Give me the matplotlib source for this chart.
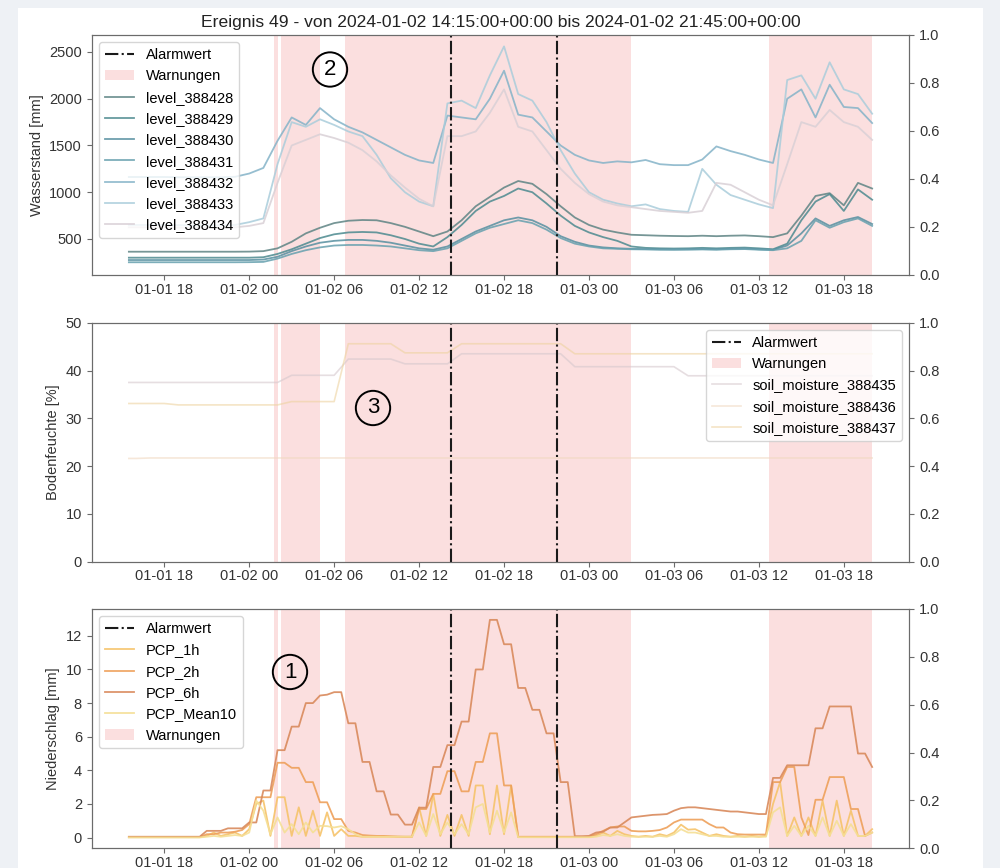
import pandas as pd
import matplotlib
matplotlib.use("Agg")
import matplotlib.pyplot as plt
import matplotlib.dates as mdates
from matplotlib.lines import Line2D
from matplotlib.patches import Patch, Rectangle

plt.rcParams['font.family'] = ['Liberation Sans', 'DejaVu Sans']
plt.rcParams['font.size'] = 10.5

title = "Ereignis 49 - von 2024-01-02 14:15:00+00:00 bis 2024-01-02 21:45:00+00:00"
alarm_times = ["2024-01-02 14:15", "2024-01-02 21:45"]
warn_start = ["2024-01-02 01:45", "2024-01-02 02:15", "2024-01-02 06:45", "2024-01-03 12:45"]
warn_end = ["2024-01-02 02:00", "2024-01-02 05:00", "2024-01-03 03:00", "2024-01-03 20:00"]

# hourly sensor readings, first one at 15:30
sensor_time = pd.DatetimeIndex(["2024-01-01 15:30"]).append(
    pd.date_range("2024-01-01 16:00", "2024-01-03 20:00", freq="h"))
# precipitation every 30 min
pcp_time = pd.date_range("2024-01-01 15:30", "2024-01-03 20:00", freq="30min")

level_names = ["level_388428", "level_388429", "level_388430", "level_388431",
               "level_388432", "level_388433", "level_388434"]
level_388428 = [364, 364, 364, 364, 364, 364, 364, 364, 364, 365, 370, 400, 470, 560, 620, 670, 695, 703,
                700, 670, 630, 580, 530, 580, 700, 850, 950, 1050, 1120, 1090, 980, 850, 730, 650, 600, 570,
                545, 540, 535, 532, 530, 535, 530, 535, 538, 530, 520, 560, 750, 960, 990, 860, 1100, 1040]
level_388429 = [300, 300, 300, 300, 300, 300, 300, 300, 300, 300, 305, 340, 390, 450, 510, 550, 570, 575,
                570, 540, 500, 450, 420, 520, 650, 800, 900, 960, 1040, 1000, 880, 750, 640, 570, 520, 480,
                420, 405, 400, 398, 400, 405, 400, 405, 408, 400, 390, 450, 700, 900, 980, 800, 1030, 920]
level_388430 = [275, 275, 275, 275, 275, 275, 275, 275, 275, 275, 280, 310, 370, 420, 460, 480, 490, 490,
                480, 460, 430, 400, 385, 420, 500, 580, 640, 700, 730, 700, 630, 530, 470, 430, 410, 400,
                395, 392, 390, 388, 390, 392, 390, 395, 398, 390, 385, 430, 560, 720, 640, 700, 735, 660]
level_388431 = [251, 251, 251, 251, 251, 251, 251, 251, 251, 252, 255, 290, 340, 380, 410, 430, 436, 436,
                430, 420, 400, 380, 370, 400, 480, 560, 620, 660, 700, 670, 600, 510, 450, 420, 400, 395,
                390, 388, 385, 385, 386, 388, 385, 390, 392, 385, 380, 400, 480, 700, 620, 680, 720, 640]
level_388432 = [1163, 1163, 1163, 1163, 1160, 1160, 1160, 1160, 1165, 1200, 1260, 1550, 1800, 1720, 1900,
                1780, 1700, 1640, 1560, 1480, 1400, 1340, 1313, 1820, 1800, 1780, 2000, 2300, 1830, 1800,
                1650, 1500, 1400, 1340, 1313, 1330, 1320, 1345, 1300, 1290, 1290, 1350, 1490, 1440, 1400,
                1350, 1313, 2000, 2100, 1800, 2150, 1912, 1900, 1740]
level_388433 = [650, 650, 650, 650, 648, 645, 645, 645, 650, 680, 720, 1300, 1750, 1700, 1780, 1720, 1650,
                1600, 1400, 1150, 1000, 900, 850, 1950, 1980, 1900, 2250, 2560, 2050, 1980, 1750, 1450,
                1200, 1000, 920, 880, 850, 870, 820, 800, 790, 1250, 1080, 970, 920, 870, 830, 2200, 2250,
                2000, 2390, 2100, 2050, 1840]
level_388434 = [625, 625, 625, 625, 622, 620, 620, 620, 625, 640, 670, 1100, 1500, 1560, 1620, 1580, 1530,
                1450, 1330, 1180, 1050, 930, 850, 1600, 1600, 1650, 1850, 2100, 1700, 1650, 1450, 1250,
                1100, 980, 900, 860, 840, 820, 800, 790, 780, 800, 1100, 1080, 1000, 920, 860, 1300, 1750,
                1700, 1880, 1750, 1700, 1560]
level_colors = ["#5e8484", "#4c8a8f", "#568fa0", "#66a0ae", "#84b3c8", "#aacddb", "#d9d0d6"]

soil_names = ["soil_moisture_388435", "soil_moisture_388436", "soil_moisture_388437"]
soil_388435 = [37.5, 37.5, 37.5, 37.5, 37.5, 37.5, 37.5, 37.5, 37.5, 37.5, 37.5, 37.5, 39.0, 39.0, 39.0,
               39.0, 42.4, 42.4, 42.4, 42.4, 41.4, 41.4, 41.4, 41.4, 43.5, 43.5, 43.5, 43.5, 43.5, 43.5,
               43.5, 43.5, 40.8, 40.8, 40.8, 40.8, 40.8, 40.8, 40.8, 40.8, 38.9, 38.9, 38.9, 38.9, 38.9,
               38.9, 38.9, 38.9, 38.9, 38.9, 38.9, 38.9, 38.9, 38.9]
soil_388436 = [21.6, 21.6, 21.7, 21.7, 21.7, 21.7, 21.7, 21.7, 21.7, 21.7, 21.7, 21.7, 21.7, 21.7, 21.7,
               21.7, 21.7, 21.7, 21.7, 21.7, 21.7, 21.7, 21.7, 21.7, 21.7, 21.7, 21.7, 21.7, 21.7, 21.7,
               21.7, 21.7, 21.7, 21.7, 21.7, 21.7, 21.7, 21.7, 21.7, 21.7, 21.7, 21.7, 21.7, 21.7, 21.7,
               21.7, 21.7, 21.7, 21.7, 21.7, 21.7, 21.7, 21.7, 21.7]
soil_388437 = [33.1, 33.1, 33.1, 33.1, 32.8, 32.8, 32.8, 32.8, 32.8, 32.8, 32.8, 32.8, 33.5, 33.5, 33.5,
               33.5, 45.6, 45.6, 45.6, 45.6, 43.7, 43.7, 43.7, 43.7, 45.6, 45.6, 45.6, 45.6, 45.6, 45.6,
               45.6, 45.6, 43.5, 43.5, 43.5, 43.5, 43.5, 43.5, 43.5, 43.5, 43.5, 43.5, 43.5, 43.5, 43.5,
               43.5, 43.5, 43.5, 43.5, 43.5, 43.5, 43.5, 43.5, 43.5]
soil_colors = ["#d6c8cd", "#f0d8c0", "#eed3a0"]

pcp_names = ["PCP_1h", "PCP_2h", "PCP_6h", "PCP_Mean10"]
pcp_1h = [0.02, 0.02, 0.02, 0.02, 0.02, 0.02, 0.02, 0.02, 0.02, 0.02, 0.02,
          0.1, 0.3, 0.1, 0.2, 0.3, 0.1,
          0.5, 2.0, 2.2, 0.1, 2.4, 2.4, 0.1, 1.8, 0.1, 1.6, 0.1, 1.5, 0.1, 0.5,
          0.1, 0.1, 0.05, 0.05, 0.05, 0.05, 0.05, 0.05, 0.05, 0.05, 1.8, 0.1, 2.6, 0.1,
          1.35, 0.1, 1.35, 0.1, 3.1, 3.1, 0.2, 3.1, 0.2, 3.1, 0.03, 0.03, 0.03, 0.03,
          0.03, 0.03, 0.03, 0.03, 0.03, 0.03, 0.03,
          0.1, 0.3, 0.1, 0.4, 0.2, 0.1, 0.05, 0.1, 0.05, 0.2, 0.1, 0.3, 0.77, 0.47, 0.5, 0.3, 0.1, 0.2,
          0.1, 0.05, 0.1, 0.05, 0.1, 0.05, 0.1,
          2.0, 3.3, 0.1, 1.2, 0.1, 1.2, 0.1, 2.2, 0.1, 2.2, 0.1, 1.6, 0.1, 0.1, 0.5]
pcp_2h = [0.03, 0.03, 0.03, 0.03, 0.03, 0.03, 0.03, 0.03, 0.03, 0.03, 0.03,
          0.2, 0.2, 0.3, 0.3, 0.35, 0.45,
          0.8, 2.4, 2.4, 2.4, 4.45, 4.45, 4.15, 4.15, 3.3, 3.3, 2.1, 2.1, 1.1, 1.1,
          0.4, 0.3, 0.15, 0.12, 0.1, 0.1, 0.08, 0.06, 0.05, 0.05, 1.7, 1.7, 2.6, 2.6,
          3.95, 3.95, 2.75, 2.75, 4.5, 4.5, 6.2, 6.2, 3.1, 3.1, 0.05, 0.05, 0.05, 0.05,
          0.05, 0.05, 0.05, 0.05, 0.05, 0.05, 0.05,
          0.2, 0.4, 0.6, 0.66, 0.66, 0.4, 0.37, 0.37, 0.4, 0.45, 0.6, 0.9, 1.07, 1.07, 1.07, 1.07, 0.8,
          0.6, 0.6, 0.3, 0.2, 0.18, 0.18, 0.18, 0.18,
          3.3, 3.3, 4.2, 4.2, 1.2, 0.15, 2.25, 2.25, 3.6, 3.6, 3.6, 1.7, 1.7, 0.1, 0.3]
pcp_6h = [0.05, 0.05, 0.05, 0.05, 0.05, 0.05, 0.05, 0.05, 0.05, 0.05, 0.05,
          0.4, 0.4, 0.4, 0.55, 0.55, 0.55,
          0.9, 0.9, 2.8, 2.8, 5.2, 5.2, 6.6, 6.6, 8.0, 8.0, 8.45, 8.5, 8.65, 8.65,
          6.8, 6.8, 4.5, 4.5, 2.75, 2.75, 1.37, 1.37, 0.77, 0.77, 1.78, 1.78, 4.2, 4.2,
          5.5, 5.5, 6.9, 6.9, 10.0, 10.0, 12.95, 12.95, 11.5, 11.5, 8.9, 8.9, 7.6, 7.6,
          6.2, 6.2, 3.3, 3.3, 0.08, 0.08, 0.1,
          0.3, 0.35, 0.6, 0.6, 0.9, 1.2, 1.25, 1.3, 1.35, 1.37, 1.4, 1.6, 1.75, 1.8, 1.8, 1.75, 1.7,
          1.65, 1.6, 1.55, 1.55, 1.5, 1.45, 1.4, 1.4,
          3.55, 3.55, 4.3, 4.3, 4.3, 4.3, 6.5, 6.5, 7.8, 7.8, 7.8, 7.8, 5.0, 5.0, 4.2]
pcp_mean10 = [0.01, 0.01, 0.01, 0.01, 0.01, 0.01, 0.01, 0.01, 0.01, 0.01, 0.01,
              0.05, 0.1, 0.05, 0.1, 0.15, 0.1,
              0.3, 2.2, 1.6, 0.2, 1.2, 0.3, 0.8, 0.2, 0.9, 0.3, 0.7, 0.68, 0.6, 0.68,
              0.5, 0.2, 0.05, 0.05, 0.05, 0.05, 0.05, 0.05, 0.05, 0.05, 0.9, 0.1, 1.4, 0.2,
              0.9, 0.2, 0.8, 0.2, 1.8, 2.0, 0.3, 1.6, 0.3, 1.5, 0.02, 0.02, 0.02, 0.02,
              0.02, 0.02, 0.02, 0.02, 0.02, 0.02, 0.02,
              0.05, 0.15, 0.1, 0.2, 0.1, 0.05, 0.05, 0.05, 0.05, 0.1, 0.05, 0.2, 0.5, 0.3, 0.3, 0.2, 0.1,
              0.1, 0.05, 0.05, 0.05, 0.05, 0.05, 0.05, 0.05,
              1.5, 1.8, 0.1, 0.7, 0.1, 0.7, 0.1, 1.2, 0.1, 1.0, 0.1, 0.8, 0.1, 0.1, 0.3]
pcp_colors = ["#f6c36a", "#eea05a", "#d98a5c", "#f5df95"]

ALARM_COLOR = "#1a1a1a"
WARN_COLOR = "lightcoral"
SPINE_COLOR = "#6b6b6b"
TEXT_COLOR = "#333333"


def decorate(ax, ylabel):
    for t in alarm_times:
        ax.axvline(pd.Timestamp(t), color=ALARM_COLOR, ls="-.", lw=1.5, zorder=4)
    for s, e in zip(warn_start, warn_end):
        ax.axvspan(pd.Timestamp(s), pd.Timestamp(e), color=WARN_COLOR, alpha=0.25, lw=0, zorder=0)
    ax.xaxis.set_major_locator(mdates.HourLocator(byhour=[0, 6, 12, 18]))
    ax.xaxis.set_major_formatter(mdates.DateFormatter("%m-%d %H"))
    ax.set_ylabel(ylabel, color=TEXT_COLOR)
    tw = ax.twinx()
    tw.set_ylim(0, 1)
    for a in (ax, tw):
        for sp in a.spines.values():
            sp.set_color(SPINE_COLOR)
        a.tick_params(colors=SPINE_COLOR, labelcolor=TEXT_COLOR, length=3.5)
    ax.tick_params(axis="x", pad=2)
    return tw


alarm_handle = Line2D([], [], color=ALARM_COLOR, ls="-.", lw=1.5, label="Alarmwert")
warn_handle = Patch(facecolor=WARN_COLOR, alpha=0.25, label="Warnungen")

fig = plt.figure(figsize=(10, 8.68), dpi=100)
fig.patch.set_facecolor("#eef1f5")
fig.add_artist(Rectangle((0.018, 0.0), 0.965, 0.991, transform=fig.transFigure,
                         facecolor="white", edgecolor="none", zorder=-10))

ax_top = fig.add_axes([0.0917, 0.6832, 0.8176, 0.2765])
ax_mid = fig.add_axes([0.0917, 0.3529, 0.8176, 0.2753])
ax_bot = fig.add_axes([0.0917, 0.0227, 0.8176, 0.2757])

# water levels
levels = [level_388428, level_388429, level_388430, level_388431,
          level_388432, level_388433, level_388434]
handles = [alarm_handle, warn_handle]
for name, vals, c in zip(level_names, levels, level_colors):
    ln, = ax_top.plot(sensor_time, vals, color=c, lw=1.3, alpha=0.85, label=name)
    handles.append(ln)
ax_top.set_ylim(115, 2682)
decorate(ax_top, "Wasserstand [mm]")
ax_top.set_title(title, fontsize=12.6, color="#222222")
ax_top.legend(handles=handles, loc="upper left")

# soil moisture
soils = [soil_388435, soil_388436, soil_388437]
handles = [alarm_handle, warn_handle]
for name, vals, c in zip(soil_names, soils, soil_colors):
    ln, = ax_mid.plot(sensor_time, vals, color=c, lw=1.2, alpha=0.6, label=name)
    handles.append(ln)
ax_mid.set_ylim(0, 50)
decorate(ax_mid, "Bodenfeuchte [%]")
ax_mid.legend(handles=handles, loc="upper right")

# precipitation
pcps = [pcp_1h, pcp_2h, pcp_6h, pcp_mean10]
handles = [alarm_handle]
for name, vals, c in zip(pcp_names, pcps, pcp_colors):
    ln, = ax_bot.plot(pcp_time, vals, color=c, lw=1.3, alpha=0.9, label=name)
    handles.append(ln)
handles.append(warn_handle)
decorate(ax_bot, "Niederschlag [mm]")
ax_bot.legend(handles=handles, loc="upper left")

# circled markers
for label, x, y in [("2", 0.330, 1 - 69.5 / 868), ("3", 0.373, 1 - 408 / 868), ("1", 0.290, 1 - 672 / 868)]:
    fig.text(x, y, label, fontsize=16, ha="center", va="center", color="black", zorder=20,
             bbox=dict(boxstyle="circle,pad=0.3", fc="none", ec="black", lw=1.4))

fig.savefig("out.png", dpi=100, facecolor=fig.get_facecolor())
